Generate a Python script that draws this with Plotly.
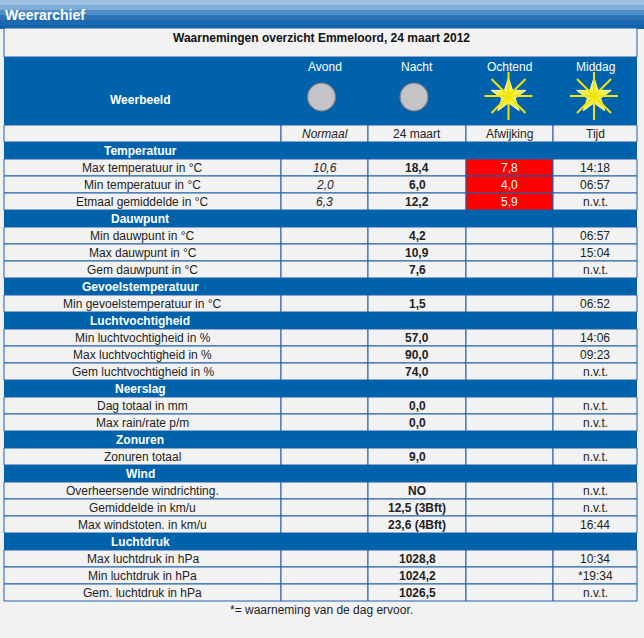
import plotly.graph_objects as go

title = "Waarnemingen overzicht Emmeloord, 24 maart 2012"
periods = ["Avond", "Nacht", "Ochtend", "Middag"]
period_icons = ["moon", "moon", "sun", "sun"]
subheaders = ["Normaal", "24 maart", "Afwijking", "Tijd"]

sections = ["Temperatuur", "Dauwpunt", "Gevoelstemperatuur", "Luchtvochtigheid",
            "Neerslag", "Zonuren", "Wind", "Luchtdruk"]
labels = [
    ["Max temperatuur in °C", "Min temperatuur in °C", "Etmaal gemiddelde in °C"],
    ["Min dauwpunt in °C", "Max dauwpunt in °C", "Gem dauwpunt in °C"],
    ["Min gevoelstemperatuur in °C"],
    ["Min luchtvochtigheid in %", "Max luchtvochtigheid in %", "Gem luchtvochtigheid in %"],
    ["Dag totaal in mm", "Max rain/rate p/m"],
    ["Zonuren totaal"],
    ["Overheersende windrichting.", "Gemiddelde in km/u", "Max windstoten. in km/u"],
    ["Max luchtdruk in hPa", "Min luchtdruk in hPa", "Gem. luchtdruk in hPa"],
]
normaal = [["10,6", "2,0", "6,3"], ["", "", ""], [""], ["", "", ""], ["", ""], [""],
           ["", "", ""], ["", "", ""]]
waarden = [["18,4", "6,0", "12,2"], ["4,2", "10,9", "7,6"], ["1,5"], ["57,0", "90,0", "74,0"],
           ["0,0", "0,0"], ["9,0"], ["NO", "12,5 (3Bft)", "23,6 (4Bft)"],
           ["1028,8", "1024,2", "1026,5"]]
afwijking = [["7,8", "4,0", "5,9"], ["", "", ""], [""], ["", "", ""], ["", ""], [""],
             ["", "", ""], ["", "", ""]]
tijd = [["14:18", "06:57", "n.v.t."], ["06:57", "15:04", "n.v.t."], ["06:52"],
        ["14:06", "09:23", "n.v.t."], ["n.v.t.", "n.v.t."], ["n.v.t."],
        ["n.v.t.", "n.v.t.", "16:44"], ["10:34", "*19:34", "n.v.t."]]
footnote = "*= waarneming van de dag ervoor."

BLUE = "#0062ab"
BG = "#f2f2f2"
LINE = "#1e5fa8"
FONT = "Liberation Sans, Arial, sans-serif"
cols = [4, 281, 368, 466, 553, 637]
RH = 17

shapes, ann = [], []
def rect(x0, y0, x1, y1, fill, lc=None, lw=0):
    shapes.append(dict(type="rect", x0=x0, y0=y0, x1=x1, y1=y1, fillcolor=fill,
                       line=dict(color=lc or fill, width=lw), layer="below"))
def text(x, y, s, size=12, color="#222", bold=False, italic=False):
    if bold: s = "<b>" + s + "</b>"
    if italic: s = "<i>" + s + "</i>"
    ann.append(dict(x=x, y=y, text=s, showarrow=False, xanchor="center", yanchor="middle",
                    font=dict(size=size, color=color, family=FONT)))

grad = ["#9cc2e2", "#7fadd6", "#4f8dc6", "#2a74b7", "#1b69b0", "#1262aa"]
for i, c in enumerate(grad):
    rect(0, i * 5, 644, i * 5 + 5 if i < 5 else 29, c)
ann.append(dict(x=3, y=15, text="<b>Weerarchief</b>", showarrow=False, xanchor="left",
                yanchor="middle", font=dict(size=14, color="white", family=FONT)))

rect(cols[0], 28, cols[-1], 57, BG, LINE, 1)
text(321, 38, title, 12, "#111", bold=True)
rect(cols[0], 57, cols[-1], 125, BLUE)
text(140, 100, "Weerbeeld", 12, "white", bold=True)
mx, my, sx, sy = [], [], [], []
for i, (p, ic) in enumerate(zip(periods, period_icons)):
    cx = (cols[i + 1] + cols[i + 2]) / 2
    text(cx, 67, p, 12, "white")
    if ic == "moon":
        mx.append(cx - 3); my.append(97)
    else:
        sx.append(cx - 1); sy.append(96)

y = 125
rect(cols[0], y, cols[1], y + RH, BG, LINE, 1)
for i, s in enumerate(subheaders):
    rect(cols[i + 1], y, cols[i + 2], y + RH, BG, LINE, 1)
    text((cols[i + 1] + cols[i + 2]) / 2, y + 9, s, 12, "#222", italic=(i == 0))
y += RH
for si, sec in enumerate(sections):
    rect(cols[0], y, cols[-1], y + RH, BLUE)
    text(140, y + 9, sec, 12, "white", bold=True)
    y += RH
    for ri, lab in enumerate(labels[si]):
        vals = [lab, normaal[si][ri], waarden[si][ri], afwijking[si][ri], tijd[si][ri]]
        for ci, v in enumerate(vals):
            red = ci == 3 and v
            rect(cols[ci], y, cols[ci + 1], y + RH, "#ff0000" if red else BG, LINE, 1)
            text((cols[ci] + cols[ci + 1]) / 2, y + 9, v, 12, "white" if red else "#222",
                 bold=(ci == 2), italic=(ci == 1))
        y += RH
text(321, y + 9, footnote, 12, "#222")

fig = go.Figure()
fig.add_trace(go.Scatter(x=mx, y=my, mode="markers", hoverinfo="skip",
                         marker=dict(size=28, color="#c4c4c8", line=dict(color="#77777f", width=1.2))))
fig.add_trace(go.Scatter(x=sx, y=sy, mode="markers", hoverinfo="skip",
                         marker=dict(size=26, symbol="star", color="#f4f04a",
                                     line=dict(color="#fffcc0", width=1))))
fig.add_trace(go.Scatter(x=sx, y=sy, mode="markers", hoverinfo="skip",
                         marker=dict(size=40, symbol="asterisk-open", color="#f2e600",
                                     line=dict(color="#f2e600", width=2))))
fig.update_layout(width=644, height=638, margin=dict(l=0, r=0, t=0, b=0),
                  paper_bgcolor=BG, plot_bgcolor=BG, showlegend=False,
                  shapes=shapes, annotations=ann,
                  xaxis=dict(range=[0, 644], visible=False, fixedrange=True),
                  yaxis=dict(range=[638, 0], visible=False, fixedrange=True))
fig.write_html("out.html", config={"displayModeBar": False},
               post_script="document.body.style.margin='0';document.body.style.overflow='hidden';")
